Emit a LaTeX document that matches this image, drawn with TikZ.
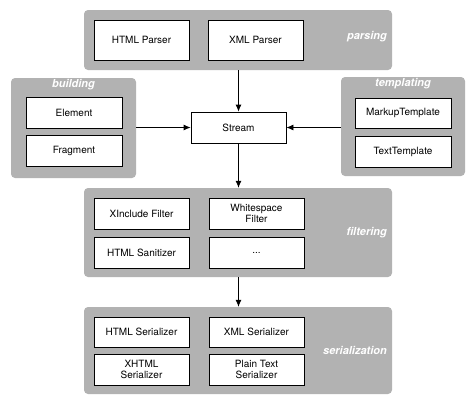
\documentclass[tikz,border=0pt]{standalone}
\usepackage{fontspec}
\setmainfont{TeX Gyre Heros}
\usetikzlibrary{arrows.meta}
\definecolor{grp}{RGB}{178,178,178}
\tikzset{
  grpbox/.style={fill=grp, draw=none, rounded corners=4pt, inner sep=0pt},
  wbox/.style={draw=black, fill=white, line width=0.8pt, inner sep=0pt, align=center,
    font=\fontsize{10}{11.5}\selectfont, minimum width=95pt},
  glabel/.style={text=white, font=\fontsize{11}{13}\selectfont\bfseries\itshape, inner sep=0pt},
  arr/.style={line width=0.8pt, -{Latex[length=7pt,width=6pt]}},
  ln/.style={line width=0.8pt}
}
\begin{document}
\begin{tikzpicture}[x=1pt,y=-1pt]
\useasboundingbox (0,0) rectangle (476,405);
% groups
\node[grpbox, minimum width=308pt, minimum height=60pt] (parsing) at (238,40) {};
\node[grpbox, minimum width=125pt, minimum height=100pt] (building) at (73.5,128) {};
\node[grpbox, minimum width=124pt, minimum height=99pt] (templating) at (403,126.5) {};
\node[grpbox, minimum width=308pt, minimum height=89pt] (filtering) at (238,232.5) {};
\node[grpbox, minimum width=308pt, minimum height=87pt] (serialization) at (238,350.5) {};
% group labels
\node[glabel, anchor=east] (lparsing) at (387,37) {parsing};
\node[glabel] (lbuilding) at (73.5,85) {building};
\node[glabel] (ltemplating) at (403,84) {templating};
\node[glabel, anchor=east] (lfiltering) at (387,233) {filtering};
\node[glabel, anchor=east] (lserial) at (387,350) {serialization};
% parsing
\node[wbox, minimum height=40pt] (htmlp) at (141.5,40) {HTML Parser};
\node[wbox, minimum height=40pt] (xmlp) at (255.5,40) {XML Parser};
% stream
\node[wbox, minimum height=31pt] (stream) at (238.5,127.5) {Stream};
% building
\node[wbox, minimum width=96pt, minimum height=31pt] (element) at (74,112.5) {Element};
\node[wbox, minimum width=96pt, minimum height=31pt] (fragment) at (74,150.5) {Fragment};
% templating
\node[wbox, minimum width=96pt, minimum height=30pt] (markup) at (403,113) {MarkupTemplate};
\node[wbox, minimum width=96pt, minimum height=31pt] (texttpl) at (403,151.5) {TextTemplate};
% filtering
\node[wbox, minimum height=31pt] (xinc) at (141.5,213.5) {XInclude Filter};
\node[wbox, minimum height=31pt] (ws) at (256.5,213.5) {Whitespace\\Filter};
\node[wbox, minimum height=31pt] (sanit) at (141.5,252.5) {HTML Sanitizer};
\node[wbox, minimum height=31pt] (dots) at (256.5,252.5) {...};
% serialization
\node[wbox, minimum height=30pt] (htmls) at (141.5,332) {HTML Serializer};
\node[wbox, minimum height=30pt] (xmls) at (256.5,332) {XML Serializer};
\node[wbox, minimum height=31pt] (xhtmls) at (141.5,369.5) {XHTML\\Serializer};
\node[wbox, minimum height=31pt] (plains) at (256.5,369.5) {Plain Text\\Serializer};
% connectors
\draw[arr] (parsing.south -| stream.north) -- (stream.north);
\draw[arr] (building.east |- stream.west) -- (stream.west);
\draw[arr] (templating.west |- stream.east) -- (stream.east);
\draw[arr] (stream.south) -- (filtering.north -| stream.south);
\draw[arr] (filtering.south -| stream.south) -- (serialization.north -| stream.south);
\end{tikzpicture}
\end{document}
